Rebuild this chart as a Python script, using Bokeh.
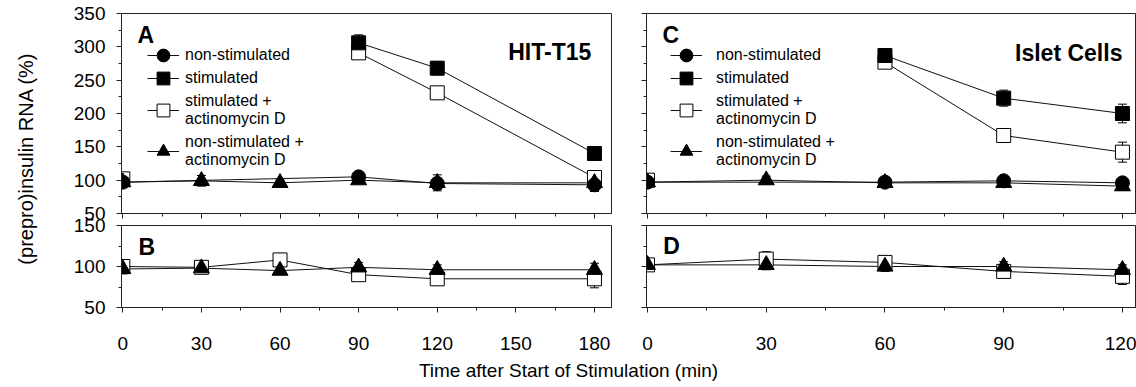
import math
from bokeh.plotting import figure
from bokeh.models import (ColumnDataSource, Range1d, FixedTicker, Whisker, TeeHead,
                          Legend, LegendItem, Label)
from bokeh.layouts import row, column
from bokeh.embed import file_html
from bokeh.resources import INLINE
from bokeh.core.properties import value

FONT = "Liberation Sans"

# ---------------- data ----------------
# Panel A  (HIT-T15, 0-180 min)
a_ns_t = [0, 90, 120, 180]
a_ns_v = [97, 105, 95, 93]
a_ns_e = [8, 5, 8, 10]
a_st_t = [90, 120, 180]
a_st_v = [306, 268, 140]
a_st_e = [12, 10, 8]
a_sa_t = [90, 120, 180]
a_sa_v = [291, 231, 104]
a_sa_e = [8, 8, 8]
a_sa0_t = [0]          # baseline point (not connected)
a_sa0_v = [102]
a_sa0_e = [8]
a_na_t = [0, 30, 60, 90, 120, 180]
a_na_v = [97, 99, 96, 100, 96, 96]
a_na_e = [6, 8, 4, 4, 12, 12]

# Panel B  (HIT-T15, 0-180 min)
b_t = [0, 30, 60, 90, 120, 180]
b_sa_v = [100, 99, 108, 90, 85, 85]
b_sa_e = [6, 6, 8, 6, 6, 11]
b_na_v = [97, 98, 95, 99, 96, 96]
b_na_e = [6, 5, 5, 6, 6, 8]

# Panel C  (Islet cells, 0-120 min)
c_ns_t = [0, 60, 90, 120]
c_ns_v = [97, 97, 99, 96]
c_ns_e = [8, 6, 6, 6]
c_st_t = [60, 90, 120]
c_st_v = [287, 223, 200]
c_st_e = [9, 12, 14]
c_sa_t = [60, 90, 120]
c_sa_v = [277, 167, 142]
c_sa_e = [9, 10, 15]
c_sa0_t = [0]          # baseline point (not connected)
c_sa0_v = [100]
c_sa0_e = [8]
c_na_t = [0, 30, 60, 90, 120]
c_na_v = [97, 100, 96, 96, 91]
c_na_e = [6, 6, 6, 6, 6]

# Panel D  (Islet cells, 0-120 min)
d_t = [0, 30, 60, 90, 120]
d_sa_v = [102, 109, 105, 94, 88]
d_sa_e = [6, 9, 6, 6, 10]
d_na_v = [102, 102, 100, 100, 96]
d_na_e = [6, 6, 6, 6, 6]

labels = ["non-stimulated", "stimulated", "stimulated +\nactinomycin D",
          "non-stimulated +\nactinomycin D"]

x_major_ab = [0, 30, 60, 90, 120, 150, 180]
x_minor_ab = [15, 45, 75, 105, 135, 165]
x_major_cd = [0, 30, 60, 90, 120]
x_minor_cd = [15, 45, 75, 105]
y_major_top = [50, 100, 150, 200, 250, 300, 350]
y_minor_top = [75, 125, 175, 225, 275, 325]
y_major_bot = [50, 100, 150]
y_minor_bot = [75, 125]

STYLE = {
    "ns": dict(marker="circle", size=14, fill_color="black"),
    "st": dict(marker="square", size=14, fill_color="black"),
    "sa": dict(marker="square", size=14, fill_color="white"),
    "na": dict(marker="triangle", size=16, fill_color="black"),
}


def style_axis(ax, ticks, minor, show_labels, standoff):
    ax.ticker = FixedTicker(ticks=ticks, minor_ticks=minor)
    ax.axis_line_color = "#222222"
    ax.axis_line_width = 1
    ax.major_tick_in = 0
    ax.major_tick_out = 5
    ax.minor_tick_in = 0
    ax.minor_tick_out = 3
    ax.major_tick_line_color = "#222222"
    ax.minor_tick_line_color = "#222222"
    ax.major_label_text_font = FONT
    ax.major_label_text_color = "black"
    if show_labels:
        ax.major_label_text_font_size = "19px"
        ax.major_label_standoff = standoff
    else:
        ax.major_label_text_font_size = "0px"
        ax.major_label_standoff = 0
        ax.major_label_overrides = {t: "" for t in ticks}


def panel(width, height, xr, yr, bl, br, bt, bb, xt, xm, yt, ym, xlab, ylab, margin=0):
    p = figure(width=width, height=height, x_range=Range1d(*xr), y_range=Range1d(*yr),
               toolbar_location=None, output_backend="svg",
               min_border_left=bl, min_border_right=br, min_border_top=bt,
               min_border_bottom=bb, margin=margin)
    p.grid.visible = False
    p.outline_line_color = "#222222"
    p.outline_line_width = 1
    p.background_fill_color = "white"
    p.border_fill_alpha = 0
    style_axis(p.xaxis[0], xt, xm, xlab, 24)
    style_axis(p.yaxis[0], yt, ym, ylab, 11)
    return p


def draw(p, series):
    srcs = []
    for t, v, e, key, connect in series:
        src = ColumnDataSource(dict(x=t, y=v,
                                    up=[a + b for a, b in zip(v, e)],
                                    lo=[a - b for a, b in zip(v, e)]))
        w = Whisker(source=src, base="x", upper="up", lower="lo", dimension="height",
                    line_color="black", line_width=1,
                    upper_head=TeeHead(size=9, line_color="black", line_width=1),
                    lower_head=TeeHead(size=9, line_color="black", line_width=1))
        p.add_layout(w)
        srcs.append((src, key, connect))
    lines = {}
    for src, key, connect in srcs:
        if connect:
            lines[key] = p.line("x", "y", source=src, line_color="#111111", line_width=1)
    marks = {}
    for src, key, connect in srcs:
        st = STYLE[key]
        s = p.scatter("x", "y", source=src, marker=st["marker"], size=st["size"],
                      fill_color=st["fill_color"], line_color="black", line_width=1)
        if connect:
            marks[key] = (lines[key], s)
    return marks


def add_legend(p, marks, x, bottoms, standoff):
    for key, lab, yb in zip(["ns", "st", "sa", "na"], labels, bottoms):
        ln, s = marks[key]
        lg = Legend(items=[LegendItem(label=lab, renderers=[ln, s])],
                    location=(x, yb), glyph_width=32, glyph_height=32,
                    label_standoff=standoff, padding=0, margin=0, spacing=0,
                    border_line_color=None, background_fill_alpha=0,
                    label_text_font=FONT, label_text_font_size="16px",
                    label_text_color="black",
                    label_text_line_height=1.15, label_height=16)
        p.add_layout(lg)


def tag(p, text, x, y, size, align="left"):
    p.add_layout(Label(x=x, y=y, text=text, text_font=FONT, text_font_size=size,
                       text_font_style="bold", text_align=align, text_baseline="middle",
                       text_color="black"))


# ---------------- panels ----------------
# top panels: frame 13..213 (canvas 0..226); bottom panels overlap by 12 px,
# canvas 214..355, frame 225..307
OVER = 12
pA = panel(578, 226, (-0.5, 186.5), (50, 350), 71, 17, 13, 13,
           x_major_ab, x_minor_ab, y_major_top, y_minor_top, False, True)
mA = draw(pA, [(a_sa0_t, a_sa0_v, a_sa0_e, "sa", False),
               (a_sa_t, a_sa_v, a_sa_e, "sa", True),
               (a_st_t, a_st_v, a_st_e, "st", True),
               (a_ns_t, a_ns_v, a_ns_e, "ns", True),
               (a_na_t, a_na_v, a_na_e, "na", True)])
add_legend(pA, mA, 26, [142, 119, 85, 44], 6)
tag(pA, "A", 5.6, 318.5, "23px")
tag(pA, "HIT-T15", 178.8, 293, "23px", "right")

pB = panel(578, 141, (-0.5, 186.5), (50, 150), 71, 17, 11, 48,
           x_major_ab, x_minor_ab, y_major_bot, y_minor_bot, True, True,
           margin=(-OVER, 0, 0, 0))
draw(pB, [(b_t, b_sa_v, b_sa_e, "sa", True), (b_t, b_na_v, b_na_e, "na", True)])
tag(pB, "B", 6.0, 123.2, "23px")

pC = panel(508, 226, (-0.25, 123.3), (50, 350), 18, 1, 13, 13,
           x_major_cd, x_minor_cd, y_major_top, y_minor_top, False, False)
mC = draw(pC, [(c_sa0_t, c_sa0_v, c_sa0_e, "sa", False),
               (c_sa_t, c_sa_v, c_sa_e, "sa", True),
               (c_st_t, c_st_v, c_st_e, "st", True),
               (c_ns_t, c_ns_v, c_ns_e, "ns", True),
               (c_na_t, c_na_v, c_na_e, "na", True)])
add_legend(pC, mC, 24, [142, 119, 85, 44], 14)
tag(pC, "C", 3.8, 318.5, "23px")
tag(pC, "Islet Cells", 120.0, 291.5, "23px", "right")

pD = panel(508, 141, (-0.25, 123.3), (50, 150), 18, 1, 11, 48,
           x_major_cd, x_minor_cd, y_major_bot, y_minor_bot, True, False,
           margin=(-OVER, 0, 0, 0))
draw(pD, [(d_t, d_sa_v, d_sa_e, "sa", True), (d_t, d_na_v, d_na_e, "na", True)])
tag(pD, "D", 4.0, 125.6, "23px")


def blank(width, height):
    p = figure(width=width, height=height, x_range=Range1d(0, width), y_range=Range1d(0, height),
               toolbar_location=None, output_backend="svg", min_border=0,
               x_axis_location=None, y_axis_location=None)
    p.grid.visible = False
    p.outline_line_color = None
    p.background_fill_color = "white"
    p.border_fill_color = "white"
    return p


pY = blank(50, 355)
pY.text(x=[25], y=[355 - 158], text=["(prepro)insulin RNA (%)"], angle=math.pi / 2,
        text_align="center", text_baseline="middle", text_font=value(FONT),
        text_font_size="20px", text_color="black")

pX = blank(1136, 32)
pX.text(x=[568], y=[32 - 15], text=["Time after Start of Stimulation (min)"],
        text_align="center", text_baseline="middle", text_font=value(FONT),
        text_font_size="19px", text_color="black")

layout = column(row(pY, column(pA, pB), column(pC, pD)), pX)

open("out.html", "w").write(file_html(layout, INLINE))
